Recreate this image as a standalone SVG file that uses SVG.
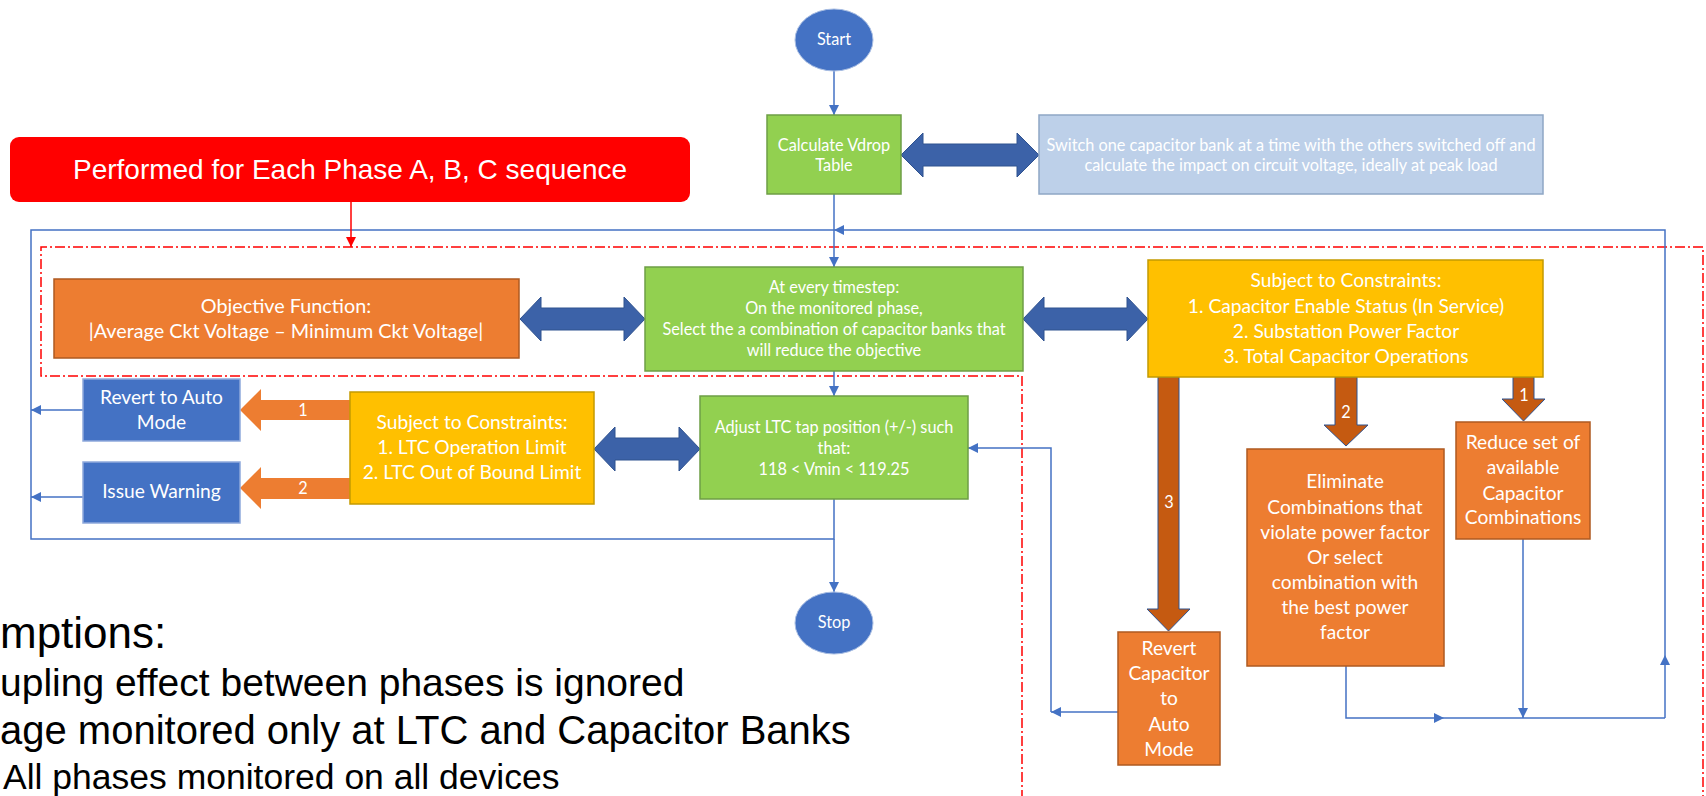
<svg xmlns="http://www.w3.org/2000/svg" width="1706" height="796" viewBox="0 0 1706 796">
  <style>
    .t { font-family: Lato, "Open Sans", sans-serif; fill: #ffffff; text-anchor: middle; }
    .l { font-size: 19.2px; }
    .xl { font-size: 19.8px; }
    .s { font-size: 16.3px; }
    .arial { font-family: "Liberation Sans", Arial, sans-serif; }
    .green { fill: #92D050; stroke: #6E9E45; stroke-width: 1.5; }
    .orange { fill: #ED7D31; stroke: #AE5A21; stroke-width: 1.5; }
    .yellow { fill: #FFC000; stroke: #C49A00; stroke-width: 1.5; }
    .blue { fill: #4472C4; stroke: #8EA9DB; stroke-width: 1.5; }
    .term { fill: #4472C4; stroke: #A9BEE3; stroke-width: 1; }
    .pale { fill: #BDD0E9; stroke: #8FA7C5; stroke-width: 1.5; }
    .dbl { fill: #3C62A8; stroke: #2F528F; stroke-width: 1; }
    .oarr { fill: #ED7D31; stroke: none; }
    .barr { fill: #C55A11; stroke: #2F528F; stroke-width: 1; }
    .wire { fill: none; stroke: #4472C4; stroke-width: 1.5; }
    .wire-end { fill: none; stroke: #4472C4; stroke-width: 1.5; marker-end: url(#ah); }
    .region { fill: none; stroke: #FF0000; stroke-width: 1.5; stroke-dasharray: 10 3 2 3; }
  </style>
  <defs>
    <marker id="ah" viewBox="0 0 10 10" refX="10" refY="5" markerWidth="11" markerHeight="10" markerUnits="userSpaceOnUse" orient="auto">
      <path d="M0,0 L10,5 L0,10 z" fill="#4472C4"/>
    </marker>
    <marker id="ahRed" viewBox="0 0 10 10" refX="10" refY="5" markerWidth="11" markerHeight="10" markerUnits="userSpaceOnUse" orient="auto">
      <path d="M0,0 L10,5 L0,10 z" fill="#FF0000"/>
    </marker>
  </defs>

  <rect width="1706" height="796" fill="#ffffff"/>

  <!-- dash-dot boundary of the per-phase optimisation region -->
  <path class="region" d="M1022,800 V376 H41 V247 H1703 V800"/>

  <!-- connectors -->
  <g id="connectors">
    <path class="wire-end" d="M834,71 V115"/>
    <path class="wire-end" d="M834,194 V267"/>
    <path class="wire-end" d="M834,371 V396"/>
    <path class="wire" d="M834,499 V539 H31 V230 H834"/>
    <path class="wire-end" d="M834,539 V592"/>
    <path class="wire-end" d="M83,410 H31"/>
    <path class="wire-end" d="M83,497 H31"/>
    <!-- return from capacitor actions to the timestep loop -->
    <path class="wire-end" d="M1346,666 V718 H1444"/>
    <path class="wire" d="M1444,718 H1665"/>
    <path class="wire-end" d="M1523,539 V718"/>
    <path class="wire-end" d="M1665,718 V655"/>
    <path class="wire-end" d="M1665,655 V230 H834"/>
    <!-- capacitor revert feeds back to the LTC step -->
    <path class="wire-end" d="M1118,712 H1051"/>
    <path class="wire-end" d="M1051,712 V448 H968"/>
    <path d="M351,202 V247" fill="none" stroke="#FF0000" stroke-width="1.5" marker-end="url(#ahRed)"/>
    <!-- block arrows -->
    <polygon class="dbl" points="901,155 923,133 923,144 1017,144 1017,133 1039,155 1017,177 1017,166 923,166 923,177"/>
    <polygon class="dbl" points="520,319 541,297 541,308 624,308 624,297 645,319 624,341 624,330 541,330 541,341"/>
    <polygon class="dbl" points="1023,319 1044,297 1044,308 1127,308 1127,297 1148,319 1127,341 1127,330 1044,330 1044,341"/>
    <polygon class="dbl" points="594,449 615,427 615,438 679,438 679,427 700,449 679,471 679,460 615,460 615,471"/>
    <polygon class="oarr" points="240,410 261,389 261,400 350,400 350,420 261,420 261,431"/>
    <text class="t s" x="303" y="416">1</text>
    <polygon class="oarr" points="240,488 261,467 261,478 350,478 350,499 261,499 261,509"/>
    <text class="t s" x="303" y="494">2</text>
    <polygon class="barr" points="1158,377 1179,377 1179,609 1190,609 1168.5,631 1147,609 1158,609"/>
    <text class="t s" x="1169" y="508">3</text>
    <polygon class="barr" points="1335,377 1357,377 1357,425 1368,425 1346,446 1324,425 1335,425"/>
    <text class="t s" x="1346" y="418">2</text>
    <polygon class="barr" points="1513,377 1534,377 1534,399 1545,399 1523.5,421 1502,399 1513,399"/>
    <text class="t s" x="1524" y="401">1</text>
  </g>

  <g id="start">
    <ellipse class="term" cx="834" cy="40" rx="39" ry="31"/>
    <text class="t s" x="834" y="45">Start</text>
  </g>

  <g id="calc-vdrop">
    <rect class="green" x="767" y="115" width="134" height="79"/>
    <text class="t s" x="834" y="151">Calculate Vdrop</text>
    <text class="t s" x="834" y="171">Table</text>
  </g>

  <g id="switch-note">
    <rect class="pale" x="1039" y="115" width="504" height="79"/>
    <text class="t s" x="1291" y="151" fill="#F4F7FB">Switch one capacitor bank at a time with the others switched off and</text>
    <text class="t s" x="1291" y="171">calculate the impact on circuit voltage, ideally at peak load</text>
  </g>

  <g id="phase-banner">
    <rect x="10" y="137" width="680" height="65" rx="9" fill="#FF0000"/>
    <text class="arial" x="350" y="179" font-size="28" fill="#ffffff" text-anchor="middle">Performed for Each Phase A, B, C sequence</text>
  </g>

  <g id="objective">
    <rect class="orange" x="54" y="279" width="465" height="79"/>
    <text class="t xl" x="286" y="313">Objective Function:</text>
    <text class="t xl" x="286" y="338">|Average Ckt Voltage – Minimum Ckt Voltage|</text>
  </g>

  <g id="timestep">
    <rect class="green" x="645" y="267" width="378" height="104"/>
    <text class="t s" x="834" y="293">At every timestep:</text>
    <text class="t s" x="834" y="314">On the monitored phase,</text>
    <text class="t s" x="834" y="335">Select the a combination of capacitor banks that</text>
    <text class="t s" x="834" y="356">will reduce the objective</text>
  </g>

  <g id="cap-constraints">
    <rect class="yellow" x="1148" y="260" width="395" height="117"/>
    <text class="t l" x="1346" y="287">Subject to Constraints:</text>
    <text class="t l" x="1346" y="313">1. Capacitor Enable Status (In Service)</text>
    <text class="t l" x="1346" y="338">2. Substation Power Factor</text>
    <text class="t l" x="1346" y="363">3. Total Capacitor Operations</text>
  </g>

  <g id="revert-auto">
    <rect class="blue" x="83" y="379" width="157" height="62"/>
    <text class="t l" x="161.5" y="404">Revert to Auto</text>
    <text class="t l" x="161.5" y="429">Mode</text>
  </g>

  <g id="issue-warning">
    <rect class="blue" x="83" y="462" width="157" height="61"/>
    <text class="t l" x="161.5" y="498">Issue Warning</text>
  </g>

  <g id="ltc-constraints">
    <rect class="yellow" x="350" y="392" width="244" height="112"/>
    <text class="t l" x="472" y="429">Subject to Constraints:</text>
    <text class="t l" x="472" y="454">1. LTC Operation Limit</text>
    <text class="t l" x="472" y="479">2. LTC Out of Bound Limit</text>
  </g>

  <g id="adjust-ltc">
    <rect class="green" x="700" y="396" width="268" height="103"/>
    <text class="t s" x="834" y="433">Adjust LTC tap position (+/-) such</text>
    <text class="t s" x="834" y="454">that:</text>
    <text class="t s" x="834" y="475">118 &lt; Vmin &lt; 119.25</text>
  </g>

  <g id="reduce-set">
    <rect class="orange" x="1456" y="422" width="134" height="117"/>
    <text class="t l" x="1523" y="449">Reduce set of</text>
    <text class="t l" x="1523" y="474">available</text>
    <text class="t l" x="1523" y="500">Capacitor</text>
    <text class="t l" x="1523" y="524">Combinations</text>
  </g>

  <g id="eliminate">
    <rect class="orange" x="1247" y="449" width="197" height="217"/>
    <text class="t l" x="1345" y="488">Eliminate</text>
    <text class="t l" x="1345" y="514">Combinations that</text>
    <text class="t l" x="1345" y="539">violate power factor</text>
    <text class="t l" x="1345" y="564">Or select</text>
    <text class="t l" x="1345" y="589">combination with</text>
    <text class="t l" x="1345" y="614">the best power</text>
    <text class="t l" x="1345" y="639">factor</text>
  </g>

  <g id="revert-capacitor">
    <rect class="orange" x="1118" y="632" width="102" height="133"/>
    <text class="t l" x="1169" y="655">Revert</text>
    <text class="t l" x="1169" y="680">Capacitor</text>
    <text class="t l" x="1169" y="705">to</text>
    <text class="t l" x="1169" y="731">Auto</text>
    <text class="t l" x="1169" y="756">Mode</text>
  </g>

  <g id="stop">
    <ellipse class="term" cx="834" cy="623" rx="39" ry="31"/>
    <text class="t s" x="834" y="628">Stop</text>
  </g>

  <g id="assumptions" class="arial" fill="#000000">
    <text x="0" y="648" font-size="44">mptions:</text>
    <text x="0" y="696" font-size="39">upling effect between phases is ignored</text>
    <text x="0" y="744" font-size="40">age monitored only at LTC and Capacitor Banks</text>
    <text x="3" y="789" font-size="35.5">All phases monitored on all devices</text>
  </g>
</svg>
